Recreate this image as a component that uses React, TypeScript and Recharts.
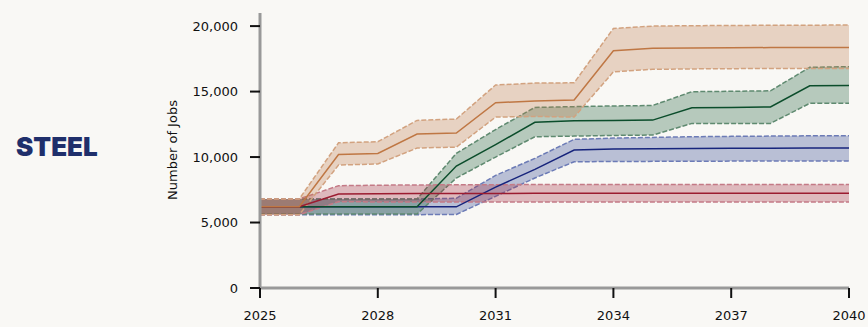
import React from "react";
import { Area, ComposedChart, Line, XAxis, YAxis } from "recharts";

// Projected jobs per scenario: central estimate with low / high range
const years = [2025, 2026, 2027, 2028, 2029, 2030, 2031, 2032, 2033, 2034, 2035, 2036, 2037, 2038, 2039, 2040];

const orangeMid = [6200, 6200, 10200, 10280, 11760, 11830, 14150, 14280, 14350, 18110, 18300, 18320, 18340, 18360, 18370, 18370];
const orangeLow = [5600, 5600, 9390, 9470, 10690, 10760, 13050, 13100, 13050, 16510, 16700, 16730, 16750, 16760, 16770, 16770];
const orangeHigh = [6800, 6800, 11090, 11170, 12800, 12900, 15500, 15650, 15670, 19820, 20000, 20030, 20050, 20060, 20070, 20080];

const redMid = [6200, 6200, 7180, 7200, 7210, 7220, 7220, 7230, 7230, 7230, 7230, 7230, 7230, 7230, 7230, 7230];
const redLow = [5600, 5600, 6590, 6570, 6560, 6560, 6560, 6560, 6560, 6560, 6560, 6560, 6560, 6560, 6560, 6560];
const redHigh = [6800, 6800, 7810, 7850, 7870, 7880, 7890, 7900, 7900, 7900, 7910, 7910, 7910, 7910, 7910, 7910];

const blueMid = [6200, 6200, 6200, 6200, 6200, 6200, 7700, 9060, 10530, 10610, 10640, 10660, 10670, 10680, 10690, 10690];
const blueLow = [5600, 5600, 5600, 5600, 5600, 5620, 7000, 8400, 9640, 9660, 9670, 9680, 9690, 9690, 9690, 9690];
const blueHigh = [6800, 6800, 6800, 6800, 6800, 6850, 8600, 9900, 11350, 11450, 11500, 11550, 11580, 11600, 11620, 11630];

const greenMid = [6200, 6200, 6200, 6200, 6200, 9310, 10950, 12650, 12770, 12790, 12820, 13760, 13790, 13820, 15440, 15470];
const greenLow = [5650, 5650, 5650, 5650, 5650, 8400, 10000, 11550, 11600, 11650, 11680, 12570, 12570, 12570, 14100, 14100];
const greenHigh = [6800, 6800, 6800, 6800, 6800, 10280, 12100, 13790, 13850, 13900, 13940, 14990, 15020, 15060, 16850, 16900];

const yTicks = [0, 5000, 10000, 15000, 20000];
const xTicks = [2025, 2028, 2031, 2034, 2037, 2040];

const data = years.map((year, i) => ({
  year,
  orange: orangeMid[i],
  orangeRange: [orangeLow[i], orangeHigh[i]],
  red: redMid[i],
  redRange: [redLow[i], redHigh[i]],
  blue: blueMid[i],
  blueRange: [blueLow[i], blueHigh[i]],
  green: greenMid[i],
  greenRange: [greenLow[i], greenHigh[i]],
}));

// drawn bottom to top: each band followed by its centre line
const series = [
  { key: "blue", line: "#17247c", fill: "#263a8c", edge: "#6c7bb6" },
  { key: "green", line: "#0b4d2b", fill: "#1c5e38", edge: "#5f8a70" },
  { key: "red", line: "#9b1c30", fill: "#a0283c", edge: "#c47a86" },
  { key: "orange", line: "#bf7744", fill: "#bd7a4c", edge: "#d2a27f" },
];

const tickStyle = { fill: "#111", fontSize: 13, fontFamily: "DejaVu Sans" };
const fmt = (v: number) => v.toLocaleString("en-US");

export default function App() {
  return (
    <div
      style={{
        position: "absolute",
        left: 0,
        top: 0,
        width: 868,
        height: 327,
        background: "#f9f8f5",
        overflow: "hidden",
      }}
    >
      <div
        style={{
          position: "absolute",
          left: 16,
          top: 130,
          fontFamily: "Inter",
          fontWeight: 900,
          fontSize: 26,
          color: "#1f2f6b",
          lineHeight: "34px",
        }}
      >
        STEEL
      </div>
      <div
        style={{
          position: "absolute",
          left: 172,
          top: 150,
          transform: "translate(-50%, -50%) rotate(-90deg)",
          fontFamily: "DejaVu Sans",
          fontSize: 13,
          color: "#111",
          whiteSpace: "nowrap",
        }}
      >
        Number of Jobs
      </div>
      <ComposedChart
        width={868}
        height={327}
        data={data}
        margin={{ top: 13, right: 19, bottom: 0, left: 200 }}
      >
        <XAxis
          dataKey="year"
          type="number"
          domain={[2025, 2040]}
          ticks={xTicks}
          height={39}
          tickSize={10}
          tickMargin={13}
          axisLine={{ stroke: "#999", strokeWidth: 3 }}
          tickLine={{ stroke: "#111", strokeWidth: 2 }}
          tick={tickStyle}
        />
        <YAxis
          type="number"
          domain={[0, 21000]}
          ticks={yTicks}
          width={60}
          tickSize={10}
          tickMargin={12}
          tickFormatter={fmt}
          axisLine={{ stroke: "#999", strokeWidth: 3 }}
          tickLine={{ stroke: "#111", strokeWidth: 2 }}
          tick={tickStyle}
        />
        {series.flatMap((s) => [
          <Area
            key={s.key + "Range"}
            type="linear"
            dataKey={s.key + "Range"}
            fill={s.fill}
            fillOpacity={0.3}
            stroke={s.edge}
            strokeWidth={1.5}
            strokeDasharray="5 2"
            dot={false}
            activeDot={false}
            isAnimationActive={false}
          />,
          <Line
            key={s.key}
            type="linear"
            dataKey={s.key}
            stroke={s.line}
            strokeWidth={1.5}
            dot={false}
            activeDot={false}
            isAnimationActive={false}
          />,
        ])}
      </ComposedChart>
    </div>
  );
}
